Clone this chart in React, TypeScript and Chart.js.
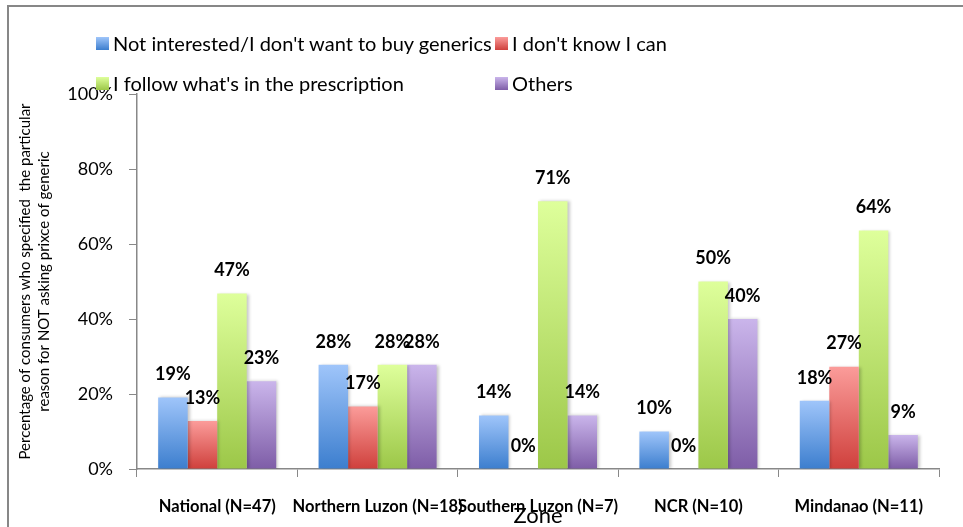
import React, { useEffect, useRef } from "react";
import { Chart, registerables } from "chart.js";

Chart.register(...registerables);

const categories = [
  "National (N=47)",
  "Northern Luzon (N=18)",
  "Southern Luzon (N=7)",
  "NCR (N=10)",
  "Mindanao (N=11)",
];
const seriesNames = [
  "Not interested/I don't want to buy generics",
  "I don't know I can",
  "I follow what's in the prescription",
  "Others",
];
const notInterested = [19.1, 27.8, 14.3, 10.0, 18.2];
const dontKnow = [12.8, 16.7, 0, 0, 27.3];
const followPrescription = [46.8, 27.8, 71.4, 50.0, 63.6];
const others = [23.4, 27.8, 14.3, 40.0, 9.1];
const yTicks = [0, 20, 40, 60, 80, 100];
const yTitle = [
  "Percentage of consumers who specified  the particular",
  "reason for NOT asking prixce of generic",
];
const xTitle = "Zone";

const gradColors: [string, string][] = [
  ["#9FC5FA", "#3C7ECE"],
  ["#FB9C9A", "#CF403C"],
  ["#DEFF9B", "#9CC748"],
  ["#CAB5EB", "#7E5DA7"],
];

const FONT = "Lato, 'Liberation Sans', sans-serif";

const shadowPlugin = {
  id: "barShadow",
  beforeDatasetsDraw(chart: any) {
    const ctx = chart.ctx;
    ctx.save();
    ctx.shadowColor = "rgba(0,0,0,0.22)";
    ctx.shadowBlur = 3;
    ctx.shadowOffsetX = 2;
    ctx.shadowOffsetY = 0;
  },
  afterDatasetsDraw(chart: any) {
    chart.ctx.restore();
  },
};

const labelPlugin = {
  id: "barLabels",
  afterDatasetsDraw(chart: any) {
    const ctx = chart.ctx;
    ctx.save();
    ctx.shadowColor = "transparent";
    ctx.font = `bold 18px ${FONT}`;
    ctx.fillStyle = "#000";
    ctx.textAlign = "center";
    ctx.textBaseline = "middle";
    chart.data.datasets.forEach((ds: any, di: number) => {
      const meta = chart.getDatasetMeta(di);
      meta.data.forEach((el: any, i: number) => {
        const v = ds.data[i];
        ctx.fillText(Math.round(v) + "%", el.x, el.y - 23);
      });
    });
    ctx.restore();
  },
};

export default function App() {
  const ref = useRef<HTMLCanvasElement>(null);
  useEffect(() => {
    const canvas = ref.current!;
    const values = [notInterested, dontKnow, followPrescription, others];
    const chart = new Chart(canvas, {
      type: "bar",
      data: {
        labels: categories,
        datasets: values.map((d, k) => ({
          label: seriesNames[k],
          data: d,
          borderWidth: 0,
          categoryPercentage: 0.736,
          barPercentage: 1,
          backgroundColor: (c: any) => {
            const ch = c.chart;
            const ys = ch.scales && ch.scales.y;
            if (!ch.chartArea || !ys || c.raw === undefined) return gradColors[k][0];
            const yTop = ys.getPixelForValue(c.raw);
            const yBot = ys.getPixelForValue(0);
            if (yBot - yTop < 1) return gradColors[k][1];
            const g = ch.ctx.createLinearGradient(0, yTop, 0, yBot);
            g.addColorStop(0, gradColors[k][0]);
            g.addColorStop(1, gradColors[k][1]);
            return g;
          },
        })),
      },
      options: {
        responsive: false,
        animation: false,
        layout: { padding: { left: 8, right: 24, top: 94, bottom: 0 } },
        plugins: {
          legend: { display: false },
          tooltip: { enabled: false },
        },
        scales: {
          x: {
            grid: {
              display: true,
              drawOnChartArea: false,
              tickLength: 8,
              color: "#888",
              offset: true,
            },
            border: { display: true, color: "#888", width: 1.5 },
            ticks: {
              autoSkip: false,
              maxRotation: 0,
              minRotation: 0,
              padding: 20,
              color: "#000",
              font: { family: FONT, size: 16.5, weight: "bold" },
            },
            title: {
              display: true,
              text: xTitle,
              color: "#000",
              padding: 0,
              font: { family: FONT, size: 22, lineHeight: 1 },
            },
            afterFit: (s: any) => {
              s.height = 58;
            },
          },
          y: {
            min: 0,
            max: 100,
            afterBuildTicks: (s: any) => {
              s.ticks = yTicks.map((v) => ({ value: v }));
            },
            grid: {
              display: true,
              drawOnChartArea: false,
              tickLength: 8,
              color: "#888",
            },
            border: { display: true, color: "#888", width: 1.5 },
            ticks: {
              padding: 16,
              color: "#000",
              font: { family: FONT, size: 18 },
              callback: (v: any) => v + "%",
            },
            title: {
              display: true,
              text: yTitle,
              color: "#000",
              padding: { top: 7, bottom: 0 },
              font: { family: FONT, size: 15, lineHeight: 1.3 },
            },
            afterFit: (s: any) => {
              s.width = 129;
            },
          },
        },
      },
      plugins: [shadowPlugin, labelPlugin],
    } as any);
    return () => chart.destroy();
  }, []);

  const legendItem = (k: number, left: number, top: number) => (
    <div
      key={k}
      style={{
        position: "absolute",
        left,
        top,
        height: 24,
        display: "flex",
        alignItems: "center",
        whiteSpace: "nowrap",
        fontFamily: FONT,
        fontSize: 20,
        color: "#000",
      }}
    >
      <span
        style={{
          display: "inline-block",
          width: 13,
          height: 13,
          marginRight: 4,
          background: `linear-gradient(${gradColors[k][0]}, ${gradColors[k][1]})`,
        }}
      />
      <span>{seriesNames[k]}</span>
    </div>
  );

  return (
    <div
      style={{
        position: "absolute",
        left: 0,
        top: 0,
        width: 963,
        height: 527,
        overflow: "hidden",
        background: "#fff",
      }}
    >
      <div
        style={{
          position: "absolute",
          left: 7,
          top: 5,
          width: 1000,
          height: 600,
          border: "2px solid #878787",
        }}
      />
      <canvas
        ref={ref}
        width={963}
        height={527}
        style={{ position: "absolute", left: 0, top: 0 }}
      />
      {legendItem(0, 96, 31)}
      {legendItem(1, 495, 31)}
      {legendItem(2, 96, 71)}
      {legendItem(3, 495, 71)}
    </div>
  );
}
